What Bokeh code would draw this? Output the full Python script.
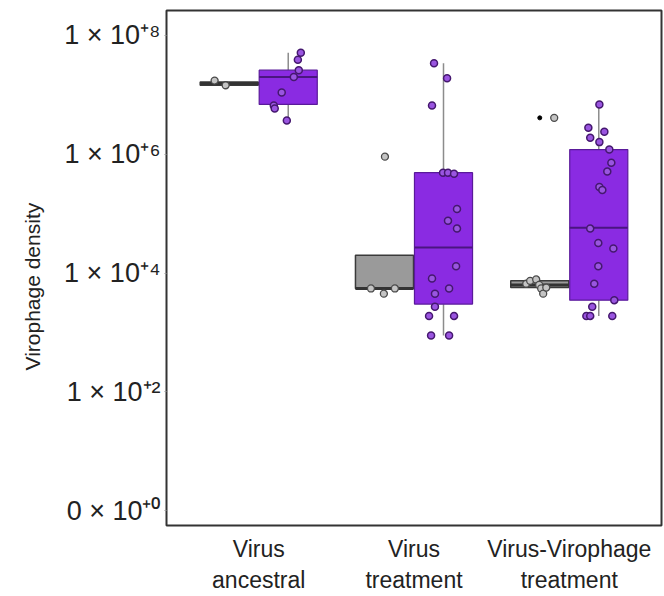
import numpy as np
from bokeh.plotting import figure
from bokeh.models import FixedTicker, Range1d, Title
from bokeh.embed import file_html
from bokeh.resources import INLINE

# ---------------- data ----------------
groups = ["Virus\nancestral", "Virus\ntreatment", "Virus-Virophage\ntreatment"]
group_pos = [1, 2, 3]

y_ticks = [1, 1e2, 1e4, 1e6, 1e8]
y_tick_labels = ["0 × 10⁺⁰", "1 × 10⁺²", "1 × 10⁺⁴", "1 × 10⁺⁶", "1 × 10⁺⁸"]

# grey boxes (virus)
gray_q1 = [1.45e7, 5.5e3, 5.7e3]
gray_med = [1.55e7, 5.5e3, 6.3e3]
gray_q3 = [1.65e7, 2.0e4, 7.4e3]
gray_out_group = [2, 3]
gray_out_value = [9.1e5, 4.1e6]

# purple boxes (virophage)
purple_q1 = [6.9e6, 3.0e3, 3.5e3]
purple_med = [2.0e7, 2.7e4, 5.8e4]
purple_q3 = [2.6e7, 4.9e5, 1.2e6]
purple_low = [3.7e6, 8.9e2, 1.9e3]
purple_high = [5.1e7, 3.4e7, 6.9e6]

# individual grey points: group, jitter (category units), value
gray_pt_group = [1, 1, 2, 2, 2, 2, 3, 3, 3, 3, 3, 3, 3, 3]
gray_pt_jitter = [-0.284, -0.213, -0.277, -0.194, -0.123, -0.187,
                  -0.277, -0.252, -0.213, -0.194, -0.181, -0.168, -0.148, -0.097]
gray_pt_value = [1.74e7, 1.45e7, 5.5e3, 4.5e3, 5.5e3, 9.1e5,
                 6.6e3, 7.4e3, 7.8e3, 6.3e3, 5.5e3, 4.5e3, 5.7e3, 4.1e6]

# individual purple points
purple_pt_group = [1] * 8 + [2] * 18 + [3] * 20
purple_pt_jitter = [0.271, 0.252, 0.258, 0.226, 0.148, 0.097, 0.103, 0.181,
                    0.129, 0.213, 0.116, 0.187, 0.219, 0.258, 0.277, 0.219, 0.277,
                    0.271, 0.116, 0.226, 0.135, 0.135, 0.097, 0.258, 0.110, 0.226,
                    0.194, 0.123, 0.226, 0.135, 0.194, 0.258, 0.271, 0.245, 0.194,
                    0.213, 0.135, 0.187, 0.284, 0.187, 0.161, 0.290, 0.148, 0.110,
                    0.135, 0.277]
purple_pt_value = [5.1e7, 3.9e7, 2.6e7, 2.0e7, 1.1e7, 6.6e6, 5.9e6, 3.7e6,
                   3.4e7, 1.9e7, 6.6e6, 4.9e5, 4.9e5, 4.7e5, 1.2e5, 7.6e4, 5.6e4,
                   1.3e4, 8.1e3, 5.5e3, 4.5e3, 2.7e3, 1.9e3, 1.9e3, 8.9e2, 8.9e2,
                   6.9e6, 2.8e6, 2.4e6, 1.9e6, 1.6e6, 1.2e6, 7.2e5, 5.1e5, 2.8e5,
                   2.5e5, 5.6e4, 3.2e4, 2.6e4, 1.3e4, 6.6e3, 3.5e3, 2.7e3, 1.9e3,
                   1.9e3, 1.9e3]

# ---------------- style ----------------
DODGE = 0.19
HALF = 0.187
GRAY_FILL = "#9a9a9a"
GRAY_LINE = "#3a3a3a"
PURPLE_FILL = "#8a2be2"
PURPLE_LINE = "#5a1a9a"
WHISKER = "#8c8c8c"
FONT = "Liberation Sans"

p = figure(width=664, height=596, output_backend="svg", toolbar_location=None,
           y_axis_type="log",
           x_range=Range1d(0.406, 3.594),
           y_range=Range1d(10 ** -0.25, 10 ** 8.42),
           min_border_left=166, min_border_right=3, min_border_top=10,
           min_border_bottom=71)

p.xgrid.visible = False
p.ygrid.visible = False
p.outline_line_color = "#333333"
p.outline_line_width = 2
p.background_fill_color = "white"
p.border_fill_color = "white"

gx = np.array(group_pos, dtype=float)

# grey boxes
gc = gx - DODGE
p.quad(left=gc - HALF, right=gc + HALF, bottom=gray_q1, top=gray_q3,
       fill_color=GRAY_FILL, line_color=GRAY_LINE, line_width=1.5)
p.segment(x0=gc - HALF, x1=gc + HALF, y0=gray_med, y1=gray_med,
          line_color="#333333", line_width=3)
p.scatter(x=[group_pos[g - 1] - DODGE for g in gray_out_group], y=gray_out_value,
          size=4, color="black")

# purple boxes
pc = gx + DODGE
p.segment(x0=pc, x1=pc, y0=purple_q3, y1=purple_high, line_color=WHISKER, line_width=1.5)
p.segment(x0=pc, x1=pc, y0=purple_q1, y1=purple_low, line_color=WHISKER, line_width=1.5)
p.quad(left=pc - HALF, right=pc + HALF, bottom=purple_q1, top=purple_q3,
       fill_color=PURPLE_FILL, line_color=PURPLE_LINE, line_width=1.2)
p.segment(x0=pc - HALF, x1=pc + HALF, y0=purple_med, y1=purple_med,
          line_color="#4a1680", line_width=2)

# points
gpx = [group_pos[g - 1] + j for g, j in zip(gray_pt_group, gray_pt_jitter)]
p.scatter(x=gpx, y=gray_pt_value, size=7, fill_color="#c4c4c4",
          line_color="#4a4a4a", line_width=1.3)
ppx = [group_pos[g - 1] + j for g, j in zip(purple_pt_group, purple_pt_jitter)]
p.scatter(x=ppx, y=purple_pt_value, size=7, fill_color="#9a55e0",
          line_color="#45186f", line_width=1.5)

# axes
p.xaxis.ticker = FixedTicker(ticks=group_pos)
p.xaxis.major_label_overrides = {gp: lab for gp, lab in zip(group_pos, groups)}
p.xaxis.major_tick_line_color = None
p.xaxis.major_tick_out = 0
p.xaxis.major_tick_in = 0
p.xaxis.minor_tick_line_color = None
p.xaxis.axis_line_color = None
p.xaxis.major_label_text_font = FONT
p.xaxis.major_label_text_font_size = "23px"
p.xaxis.major_label_text_color = "#222222"
p.xaxis.major_label_standoff = 10

p.yaxis.ticker = FixedTicker(ticks=y_ticks, minor_ticks=[])
p.yaxis.major_label_overrides = {t: lab for t, lab in zip(y_ticks, y_tick_labels)}
p.yaxis.axis_line_color = None
p.yaxis.major_tick_line_color = "#999999"
p.yaxis.major_tick_out = 2
p.yaxis.major_tick_in = 0
p.yaxis.minor_tick_line_color = None
p.yaxis.major_label_text_font = FONT
p.yaxis.major_label_text_font_size = "27px"
p.yaxis.major_label_text_color = "#222222"
p.yaxis.major_label_standoff = 4

ylab = Title(text="Virophage density", align="left", offset=155,
             text_font=FONT, text_font_size="21px", text_font_style="normal",
             text_color="#222222", standoff=36)
p.add_layout(ylab, "left")

open("out.html", "w").write(file_html(p, INLINE))
